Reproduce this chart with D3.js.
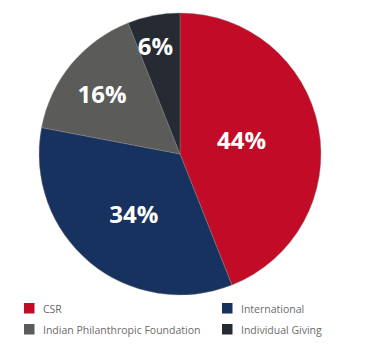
<!DOCTYPE html>
<html>
<head>
<meta charset="utf-8">
<script src="https://cdn.jsdelivr.net/npm/d3@7"></script>
<style>
  html, body { margin: 0; padding: 0; background: #fff; }
  svg { display: block; font-family: "Open Sans", "Noto Sans", sans-serif; }
</style>
</head>
<body>
<svg id="chart" width="374" height="351"></svg>
<script>
// slice data, clockwise from 12 o'clock
const categories = ['CSR', 'International', 'Indian Philanthropic Foundation', 'Individual Giving'];
const shares = [44, 34, 16, 6];
const colors = ['#c20c27', '#17325e', '#5b5b59', '#252a33'];

// legend order (two columns)
const legendOrder = ['CSR', 'International', 'Indian Philanthropic Foundation', 'Individual Giving'];

const width = 374, height = 351;
const cx = 180, cy = 154, radius = 141;

const svg = d3.select('#chart');
const g = svg.append('g').attr('transform', `translate(${cx},${cy})`);

const slices = categories.map((name, i) => ({ name, value: shares[i], color: colors[i] }));
const total = d3.sum(shares);

const pie = d3.pie().value(d => d.value).sort(null);
const arc = d3.arc().innerRadius(0).outerRadius(radius);
const arcs = pie(slices);

g.selectAll('path.slice')
    .data(arcs)
    .enter()
    .append('path')
    .attr('class', 'slice')
    .attr('d', arc)
    .attr('fill', d => d.data.color)
    .attr('stroke', '#8a8a8a')
    .attr('stroke-width', 0.4);

// bigger slices get their label pulled further in
function labelPos(d) {
    const frac = d.data.value / total;
    const r = radius * (0.84 - 0.89 * frac);
    const a = (d.startAngle + d.endAngle) / 2 - 0.035;
    return [Math.sin(a) * r, -Math.cos(a) * r];
}

g.selectAll('text.pct')
    .data(arcs)
    .enter()
    .append('text')
    .attr('class', 'pct')
    .attr('x', d => labelPos(d)[0])
    .attr('y', d => labelPos(d)[1])
    .attr('text-anchor', 'middle')
    .attr('dy', '0.36em')
    .attr('fill', '#fff')
    .attr('font-size', 24)
    .attr('font-weight', 700)
    .text(d => d.data.value + '%');

// legend
const legendX = d3.scalePoint().domain([0, 1]).range([24, 222]);
const legendY = d3.scalePoint().domain([0, 1]).range([303, 324]);

const legend = svg.append('g');
const items = legend.selectAll('g.item')
    .data(legendOrder)
    .enter()
    .append('g')
    .attr('class', 'item')
    .attr('transform', (d, i) => `translate(${legendX(i % 2)},${legendY(Math.floor(i / 2))})`);

items.append('rect')
    .attr('width', 10.5)
    .attr('height', 10.5)
    .attr('fill', d => slices.find(s => s.name === d).color);

items.append('text')
    .attr('x', 19)
    .attr('y', 10)
    .attr('font-size', 10.5)
    .attr('fill', '#6b6b6b')
    .text(d => d);
</script>
</body>
</html>
